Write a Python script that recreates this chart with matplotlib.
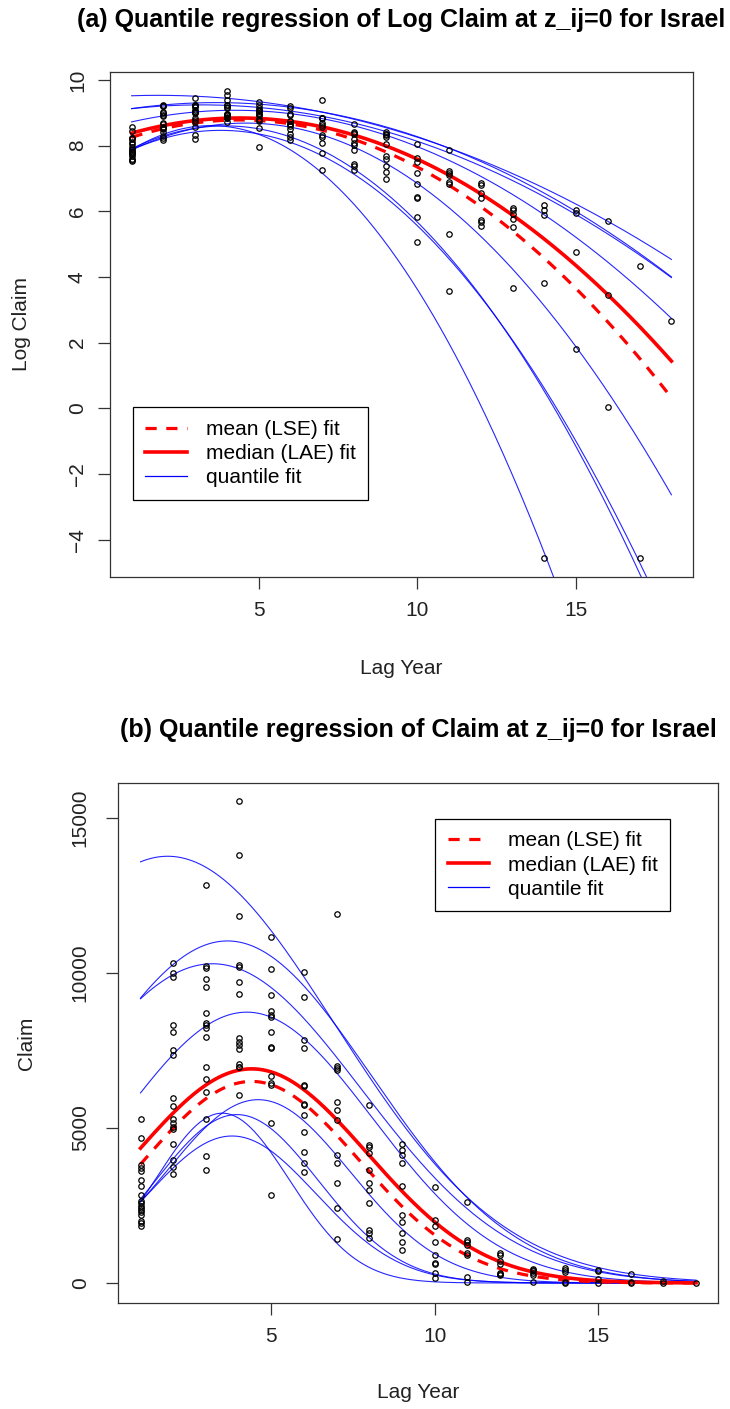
import numpy as np
import matplotlib.pyplot as plt

plt.rcParams['font.family'] = ['Liberation Sans', 'DejaVu Sans']

# lag year of each column of the run-off triangle
lag_years = list(range(1, 19))

# log claims per lag year
log_claims = [
    [8.572, 8.449, 8.245, 8.221, 8.194, 8.108, 8.049, 7.952, 7.886, 7.852, 7.820, 7.791, 7.766, 7.736, 7.696, 7.606, 7.570, 7.518],
    [9.243, 9.211, 9.196, 9.026, 8.998, 8.925, 8.904, 8.693, 8.650, 8.572, 8.547, 8.525, 8.511, 8.407, 8.286, 8.224, 8.166],
    [9.459, 9.233, 9.225, 9.192, 9.165, 9.074, 9.036, 9.026, 9.014, 8.981, 8.851, 8.790, 8.727, 8.574, 8.319, 8.202],
    [9.651, 9.533, 9.378, 9.236, 9.228, 9.182, 9.140, 8.973, 8.959, 8.944, 8.928, 8.864, 8.851, 8.847, 8.711],
    [9.319, 9.223, 9.137, 9.081, 9.065, 9.056, 8.998, 8.939, 8.932, 8.807, 8.773, 8.762, 8.547, 7.952],
    [9.214, 9.131, 8.967, 8.932, 8.762, 8.756, 8.660, 8.655, 8.598, 8.493, 8.352, 8.258, 8.180],
    [9.384, 8.854, 8.846, 8.835, 8.674, 8.627, 8.568, 8.326, 8.258, 8.083, 7.787, 7.251],
    [8.655, 8.401, 8.389, 8.338, 8.202, 8.077, 8.006, 7.852, 7.444, 7.378, 7.272],
    [8.407, 8.366, 8.326, 8.258, 8.049, 7.692, 7.591, 7.378, 7.193, 6.975],
    [8.04, 7.62, 7.51, 7.18, 6.82, 6.45, 6.42, 5.82, 5.06],
    [7.87, 7.23, 7.18, 7.11, 6.89, 6.82, 5.30, 3.58],
    [6.86, 6.80, 6.57, 6.40, 5.74, 5.66, 5.56],
    [6.09, 6.04, 5.92, 5.77, 5.53, 3.66],
    [6.19, 6.04, 5.89, 3.83, -4.56],
    [6.04, 5.94, 4.75, 1.81],
    [5.69, 3.46, 0.04],
    [4.35, -4.56],
    [2.66],
]

# quadratic fits of log claim: intercept + lag * b + lag^2 * c
quant_intercept = [9.466, 8.963, 8.994, 8.470, 7.352, 7.163, 7.352, 7.374]
quant_lag = [0.0699, 0.1889, 0.1536, 0.2848, 0.5796, 0.8260, 0.6320, 0.5738]
quant_lag2 = [-0.0191, -0.0258, -0.0240, -0.0335, -0.0630, -0.1180, -0.0800, -0.0755]
median_coef = [8.066, 0.352, -0.040]
mean_coef = [7.895, 0.4022, -0.0457]

W, H = 730, 1409
fig = plt.figure(figsize=(W / 100, H / 100), dpi=100)

x = np.array(lag_years, dtype=float)
xs = np.linspace(x[0], x[-1], 300)
px = np.concatenate([np.full(len(v), lag_years[i]) for i, v in enumerate(log_claims)])
py = np.concatenate([np.array(v) for v in log_claims])


def quad(a, b, c):
    return a + b * xs + c * xs ** 2


def box(left, top, right, bottom):
    return [left / W, 1 - bottom / H, (right - left) / W, (bottom - top) / H]


ax1 = fig.add_axes(box(110, 72, 693, 577))
ax2 = fig.add_axes(box(118.3, 783, 718.3, 1302.5))

for ax, tr in [(ax1, lambda v: v), (ax2, np.exp)]:
    ax.plot(px, tr(py), 'o', mfc='none', mec='black', ms=3.9, mew=0.9, zorder=3)
    for a, b, c in zip(quant_intercept, quant_lag, quant_lag2):
        ax.plot(xs, tr(quad(a, b, c)), color='blue', lw=0.8, alpha=0.85)
    ax.plot(xs, tr(quad(*mean_coef)), color='red', lw=2.3, ls=(0, (3.5, 3.0)),
            label='mean (LSE) fit')
    ax.plot(xs, tr(quad(*median_coef)), color='red', lw=2.6, label='median (LAE) fit')
    ax.plot([], [], color='blue', lw=0.9, label='quantile fit')
    ax.set_xlim(0.32, 18.68)
    ax.set_xticks([5, 10, 15])
    for s in ax.spines.values():
        s.set_linewidth(0.9)
        s.set_color('#333333')
    ax.tick_params(length=8.6, width=0.9, color='#333333', labelsize=15,
                   labelcolor='#222222')
    plt.setp(ax.get_yticklabels(), rotation=90, va='center')

ax1.set_ylim(-5.13, 10.24)
ax1.set_yticks([-4, -2, 0, 2, 4, 6, 8, 10])
ax1.set_yticklabels(['\u22124', '\u22122', '0', '2', '4', '6', '8', '10'])
ax1.tick_params(axis='y', pad=8)
ax1.tick_params(axis='x', pad=9)

ax2.set_ylim(-629, 16129)
ax2.set_yticks([0, 5000, 10000, 15000])
ax2.tick_params(axis='y', pad=12)
ax2.tick_params(axis='x', pad=9)

legend_kw = dict(fontsize=15, frameon=True, fancybox=False, framealpha=1,
                 edgecolor='black', handlelength=2.0, handletextpad=0.9,
                 labelspacing=0.25, borderpad=0.6, borderaxespad=0)
leg1 = ax1.legend(loc='upper left', bbox_to_anchor=(0.039, 0.336), **legend_kw)
leg2 = ax2.legend(loc='upper left', bbox_to_anchor=(0.528, 0.931), **legend_kw)
for leg in (leg1, leg2):
    leg.get_frame().set_linewidth(0.9)

fig.text(401.5 / W, 1 - 20 / H, '(a) Quantile regression of Log Claim at z_ij=0 for Israel',
         ha='center', va='center', fontsize=18, fontweight='bold')
fig.text(418.3 / W, 1 - 730 / H, '(b) Quantile regression of Claim at z_ij=0 for Israel',
         ha='center', va='center', fontsize=18, fontweight='bold')
fig.text(401.5 / W, 1 - 668 / H, 'Lag Year', ha='center', va='center', fontsize=15, color='#222222')
fig.text(418.3 / W, 1 - 1393 / H, 'Lag Year', ha='center', va='center', fontsize=15, color='#222222')
fig.text(21.7 / W, 1 - 324 / H, 'Log Claim', ha='center', va='center', rotation=90,
         fontsize=15, color='#222222')
fig.text(26.7 / W, 1 - 1043 / H, 'Claim', ha='center', va='center', rotation=90,
         fontsize=15, color='#222222')

fig.savefig('out.png', dpi=100)
